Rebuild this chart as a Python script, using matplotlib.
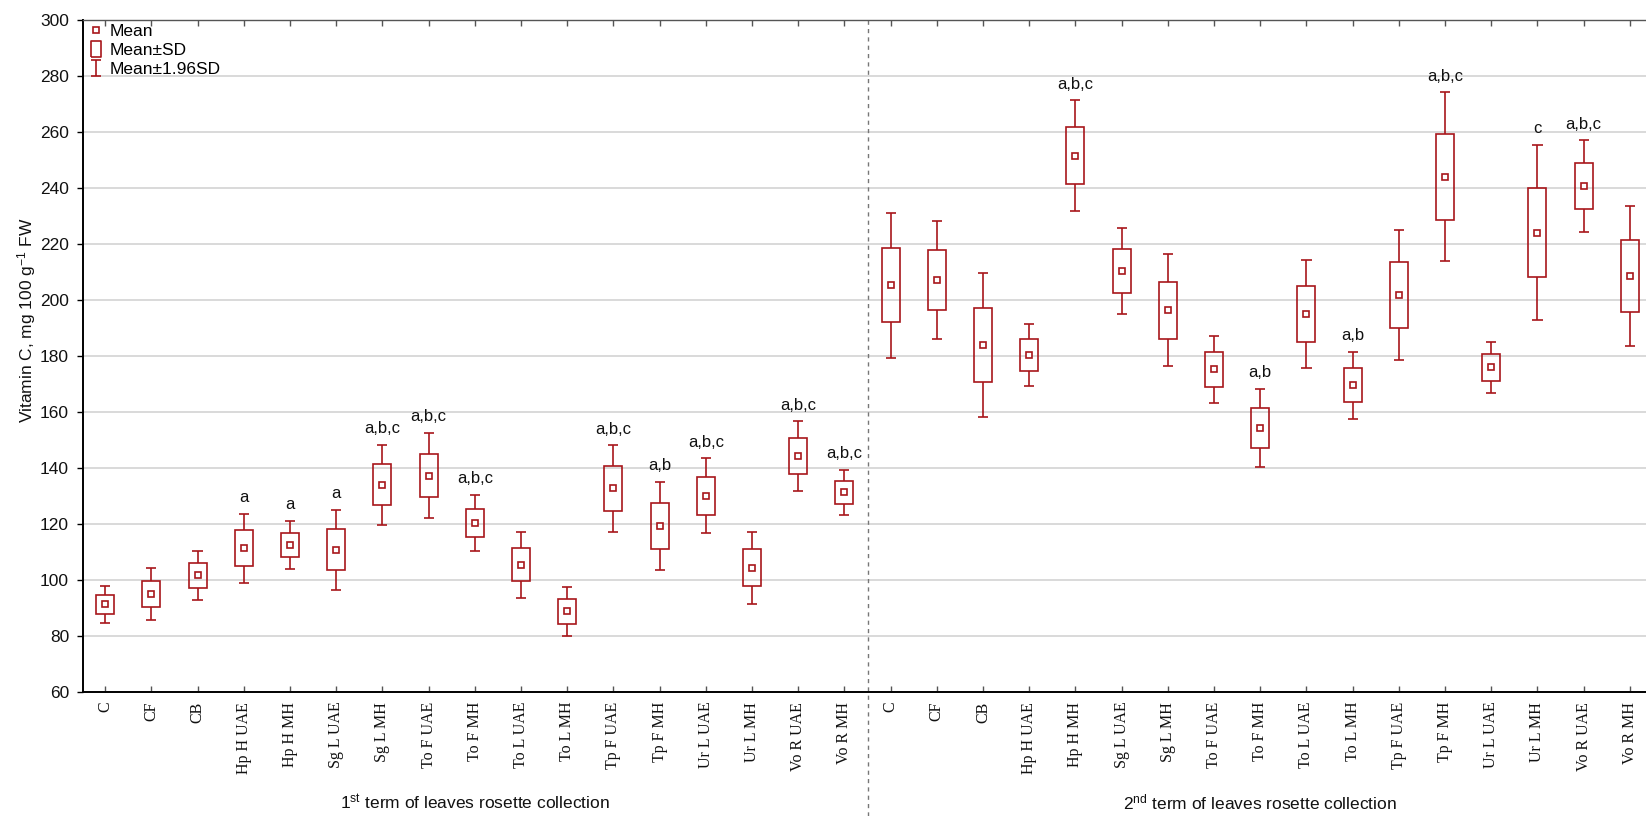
import numpy as np
import matplotlib
matplotlib.use("Agg")
import matplotlib.pyplot as plt
from matplotlib.patches import Rectangle
from matplotlib.lines import Line2D
from matplotlib.path import Path

plt.rcParams['font.family'] = ['Liberation Sans', 'DejaVu Sans']
plt.rcParams['mathtext.fontset'] = 'custom'
plt.rcParams['mathtext.rm'] = 'Liberation Sans'
plt.rcParams['mathtext.it'] = 'Liberation Sans:italic'

# variants, same in both collection terms
variants = ['C', 'CF', 'CB', 'Hp H UAE', 'Hp H MH', 'Sg L UAE', 'Sg L MH',
            'To F UAE', 'To F MH', 'To L UAE', 'To L MH', 'Tp F UAE', 'Tp F MH',
            'Ur L UAE', 'Ur L MH', 'Vo R UAE', 'Vo R MH']

# vitamin C, mg/100 g FW : mean and SD
mean_1st = [91.3, 95.0, 101.7, 111.4, 112.5, 110.8, 134.0, 137.3, 120.4,
            105.5, 88.8, 132.7, 119.3, 130.1, 104.3, 144.3, 131.4]
sd_1st = [3.35, 4.8, 4.5, 6.3, 4.4, 7.3, 7.3, 7.8, 5.1,
          6.0, 4.4, 7.9, 8.1, 6.8, 6.6, 6.3, 4.1]
mean_2nd = [205.2, 207.1, 183.9, 180.3, 251.6, 210.4, 196.3, 175.2, 154.3,
            195.0, 169.6, 201.8, 244.0, 175.9, 224.1, 240.7, 208.5]
sd_2nd = [13.2, 10.8, 13.1, 5.6, 10.1, 7.8, 10.2, 6.1, 7.1,
          9.9, 6.1, 11.9, 15.4, 4.7, 16.0, 8.3, 12.8]

# significance letters
letters_1st = ['', '', '', 'a', 'a', 'a', 'a,b,c', 'a,b,c', 'a,b,c',
               '', '', 'a,b,c', 'a,b', 'a,b,c', '', 'a,b,c', 'a,b,c']
letters_2nd = ['', '', '', '', 'a,b,c', '', '', '', 'a,b',
               '', 'a,b', '', 'a,b,c', '', 'c', 'a,b,c', '']

terms = ['1$^{\\rm st}$ term of leaves rosette collection',
         '2$^{\\rm nd}$ term of leaves rosette collection']

red = '#a8161b'
means = np.array(mean_1st + mean_2nd)
sds = np.array(sd_1st + sd_2nd)
letters = letters_1st + letters_2nd
labels = variants + variants
x = np.arange(len(means))

fig = plt.figure(figsize=(16.46, 8.16), dpi=100)
ax = fig.add_axes([83 / 1646, 124 / 816, 1 - 83 / 1646, (692 - 20) / 816])

ax.set_ylim(60, 300)
ax.set_xlim(-0.48, 33.35)
ax.set_yticks(np.arange(60, 301, 20))
ax.grid(axis='y', color='#d9d9d9', lw=1.4)
ax.set_axisbelow(True)

bw = 0.39
cw = 0.22
for xi, m, s, let in zip(x, means, sds, letters):
    ax.add_patch(Rectangle((xi - bw / 2, m - s), bw, 2 * s, fill=False,
                           ec=red, lw=1.2, zorder=3))
    ax.vlines([xi, xi], [m + s, m - 1.96 * s], [m + 1.96 * s, m - s],
              color=red, lw=1.2, zorder=3)
    ax.hlines([m + 1.96 * s, m - 1.96 * s], xi - cw / 2, xi + cw / 2,
              color=red, lw=1.2, zorder=3)
    if let:
        ax.annotate(let, (xi, m + 1.96 * s), xytext=(0, 8.3),
                    textcoords='offset points', ha='center', va='baseline',
                    fontsize=12, color='#111111')
ax.plot(x, means, ls='none', marker='s', ms=5, mfc='white', mec=red,
        mew=1.2, zorder=4)

# split between the two terms
ax.axvline(16.5, ymin=-0.185, ymax=1, color='#777777', ls=(0, (3, 3)),
           lw=1, clip_on=False)

ax.set_xticks(x)
ax.set_xticklabels(labels, rotation=90, fontfamily='Liberation Serif',
                   fontsize=11.5, color='#111111')
ax.tick_params(axis='x', direction='in', length=4, pad=7, top=True,
               width=1, color='#555555')
ax.tick_params(axis='y', direction='out', length=4, pad=6, labelsize=12.5,
               labelcolor='#111111', width=1)
for side in ['left', 'bottom']:
    ax.spines[side].set_linewidth(1.4)
ax.spines['top'].set_linewidth(1.0)
ax.spines['top'].set_color('#555555')
ax.spines['right'].set_visible(False)

fig.text(27 / 1646, 1 - 320 / 816, 'Vitamin C, mg 100 g$^{-1}$ FW',
         rotation=90, ha='center', va='center', fontsize=12.5, color='#111111')
for xc, t in zip([8, 25], terms):
    ax.annotate(t, (xc, 14 / 816), xycoords=('data', 'figure fraction'),
                ha='center', va='center', fontsize=12.5, color='#111111')

# legend symbols
box_path = Path([(-0.33, -0.5), (0.33, -0.5), (0.33, 0.5), (-0.33, 0.5),
                 (-0.33, -0.5)])
ibar_path = Path([(-0.3, -0.5), (0.3, -0.5), (0, -0.5), (0, 0.5),
                  (-0.3, 0.5), (0.3, 0.5)],
                 [Path.MOVETO, Path.LINETO, Path.MOVETO, Path.LINETO,
                  Path.MOVETO, Path.LINETO])
handles = [
    Line2D([], [], ls='none', marker='s', ms=5, mfc='white', mec=red, mew=1.2),
    Line2D([], [], ls='none', marker=box_path, ms=11.5, mfc='none', mec=red,
           mew=1.2),
    Line2D([], [], ls='none', marker=ibar_path, ms=11.5, mfc='none', mec=red,
           mew=1.2),
]
ax.legend(handles, ['Mean', 'Mean±SD', 'Mean±1.96SD'], loc='upper left',
          frameon=False, fontsize=12.5, handlelength=1.0, handletextpad=0.3,
          labelspacing=0.2, borderaxespad=0.1, borderpad=0.15)

fig.savefig('out.png', dpi=100)
